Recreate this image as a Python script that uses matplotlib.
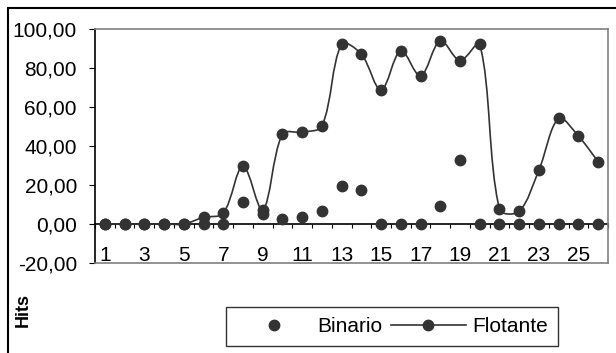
import numpy as np
import matplotlib
matplotlib.use("Agg")
import matplotlib.pyplot as plt
from matplotlib.path import Path
from matplotlib.patches import PathPatch, Rectangle
from matplotlib.lines import Line2D

plt.rcParams['font.family'] = ['Liberation Sans', 'DejaVu Sans']

# data
categories = list(range(1, 27))
binario = [0, 0, 0, 0, 0, 0, 0, 11.4, 5.1, 2.5, 3.5, 6.5, 19.7, 17.5, 0, 0, 0,
           9.4, 32.8, 0, 0, 0, 0, 0, 0, 0]
flotante = [0, 0, 0, 0, 0, 3.4, 5.5, 29.8, 7.2, 46.1, 47.1, 50.2, 92.2, 87.1,
            68.7, 88.9, 75.9, 94.0, 83.8, 92.2, 7.5, 6.5, 27.7, 54.2, 45.1, 32.0]
y_ticks = [-20, 0, 20, 40, 60, 80, 100]
x_labels = [str(c) for c in categories[::2]]

dark = '#333333'
grey = '#808080'

fig = plt.figure(figsize=(6.16, 3.53), dpi=100)
ax = fig.add_axes([95 / 616, 1 - 263 / 353, (608 - 95) / 616, (263 - 29) / 353])

# smoothed line, excel style: tangents weighted by segment length in screen space
sx, sy = (608 - 95) / 26.0, (263 - 29) / 120.0
pts = np.column_stack([np.array(categories) * sx, np.array(flotante) * sy])
n = len(pts)
verts = [pts[0]]
codes = [Path.MOVETO]


def ctrl(i, nxt):
    p0 = pts[max(i - 1, 0)]
    p1 = pts[i]
    p2 = pts[min(i + 1, n - 1)]
    d1 = np.hypot(*(p1 - p0))
    d2 = np.hypot(*(p2 - p1))
    if d1 + d2 == 0:
        return p1
    d = d2 if nxt else d1
    sign = 1 if nxt else -1
    return p1 + sign * (p2 - p0) * d / (d1 + d2) / 3


for i in range(n - 1):
    verts += [ctrl(i, True), ctrl(i + 1, False), pts[i + 1]]
    codes += [Path.CURVE4] * 3
verts = np.array(verts) / [sx, sy]
ax.add_patch(PathPatch(Path(verts, codes), fill=False, ec=dark, lw=1.2, zorder=3))

ax.plot(categories, flotante, 'o', color=dark, ms=7.5, zorder=4)
ax.plot(categories, binario, 'o', color=dark, ms=7.5, zorder=4)

ax.set_xlim(0.5, 26.5)
ax.set_ylim(-20, 100)
ax.set_yticks(y_ticks)
ax.set_yticklabels([f"{v:.2f}".replace('.', ',') for v in y_ticks], fontsize=15)
ax.tick_params(axis='y', direction='out', length=4, color='black', pad=9)

ax.set_xticks(categories[::2])
ax.set_xticklabels(x_labels, fontsize=15)
ax.tick_params(axis='x', length=0, pad=-12.5)

for s in ['top', 'right', 'bottom']:
    ax.spines[s].set_color(grey)
    ax.spines[s].set_linewidth(1.2)
ax.spines['left'].set_color('black')
ax.spines['left'].set_linewidth(1.2)

# category axis crossing at zero
sec = ax.secondary_xaxis((0 - (-20)) / 120)
sec.set_xticks(np.arange(0.5, 27, 1))
sec.tick_params(direction='out', length=3, labelbottom=False, color='black')
sec.spines['bottom'].set_color('black')
sec.spines['bottom'].set_linewidth(1.2)

fig.text(23 / 616, 1 - 310 / 353, 'Hits', rotation=90, fontsize=13,
         fontweight='bold', ha='center', va='center')

handles = [Line2D([], [], ls='none', marker='o', color=dark, ms=7.5),
           Line2D([], [], ls='-', marker='o', color=dark, ms=7.5, lw=1.2)]
leg = fig.legend(handles, ['Binario', 'Flotante'], ncol=2, fontsize=15,
                 loc='center', bbox_to_anchor=(392 / 616, 1 - 326.5 / 353),
                 frameon=True, fancybox=False, edgecolor='black',
                 handlelength=3.6, handletextpad=0.3, columnspacing=0.4,
                 borderpad=0.5)
leg.get_frame().set_linewidth(1.0)

# outer chart frame
fig.patches.append(Rectangle((8 / 616, -0.1), 1.2, 1 - 8 / 353 + 0.1,
                             transform=fig.transFigure, fill=False,
                             ec='black', lw=1.5))

fig.savefig('out.png', dpi=100)
